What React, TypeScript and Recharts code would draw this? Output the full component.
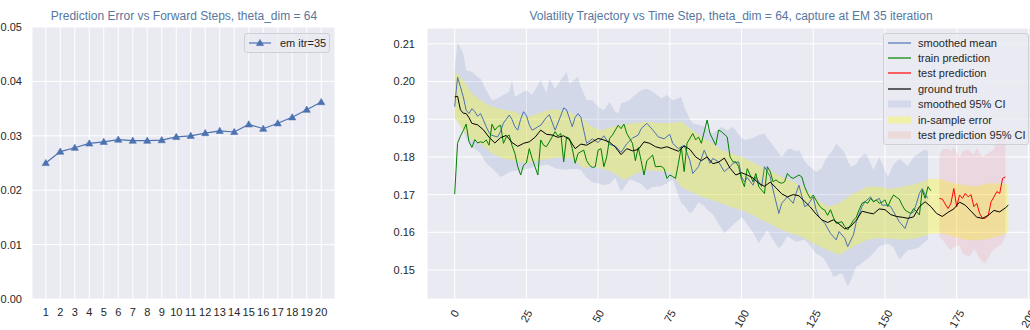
import React from "react";
import {
  ComposedChart,
  Line,
  Area,
  XAxis,
  YAxis,
  CartesianGrid,
  Legend,
} from "recharts";

// ---- left panel: prediction error per forward step ----
const forwardSteps = [1, 2, 3, 4, 5, 6, 7, 8, 9, 10, 11, 12, 13, 14, 15, 16, 17, 18, 19, 20];
const predError = [
  0.025, 0.0271, 0.0278, 0.0286, 0.0289, 0.0293, 0.0291, 0.0291, 0.0292, 0.0298,
  0.03, 0.0305, 0.0309, 0.0307, 0.0321, 0.0313, 0.0323, 0.0334, 0.0348, 0.0362,
];
const errTicks = [0, 0.01, 0.02, 0.03, 0.04, 0.05];

// ---- right panel: volatility trajectory, [step, value] ----
const groundTruth: [number, number][] = [
  [0, 0.1959], [1, 0.1961], [2, 0.1925], [3, 0.1916], [4, 0.1915], [5, 0.1904], [6, 0.1889],
  [8, 0.1885], [10, 0.1872], [12, 0.1852], [14, 0.1837], [16, 0.1851], [18, 0.1857], [20, 0.1838],
  [22, 0.1828], [24, 0.1836], [26, 0.184], [28, 0.1852], [30, 0.1871], [32, 0.186], [34, 0.1858],
  [36, 0.1852], [38, 0.1856], [40, 0.1846], [42, 0.1822], [44, 0.1834], [46, 0.1831], [48, 0.184],
  [50, 0.1849], [52, 0.1845], [54, 0.1839], [56, 0.1826], [58, 0.1806], [60, 0.1822], [62, 0.1816],
  [64, 0.182], [66, 0.184], [68, 0.1836], [70, 0.1827], [72, 0.1823], [74, 0.1827], [76, 0.1821],
  [78, 0.1815], [80, 0.1829], [82, 0.182], [84, 0.18], [86, 0.179], [88, 0.18], [90, 0.1782],
  [92, 0.1786], [94, 0.1797], [96, 0.177], [98, 0.1752], [100, 0.1758], [102, 0.1752], [104, 0.1744],
  [106, 0.173], [108, 0.1722], [110, 0.1733], [112, 0.1718], [114, 0.1702], [116, 0.1694], [118, 0.17],
  [120, 0.1697], [122, 0.1682], [124, 0.1667], [126, 0.1648], [128, 0.1633], [130, 0.1626], [132, 0.1633],
  [134, 0.1622], [136, 0.1609], [138, 0.1615], [140, 0.1632], [142, 0.1656], [144, 0.1652], [146, 0.1649],
  [148, 0.1662], [150, 0.166], [152, 0.1647], [154, 0.1642], [156, 0.164], [158, 0.1637], [160, 0.1641],
  [162, 0.1668], [164, 0.1681], [166, 0.1668], [168, 0.165], [170, 0.1642], [172, 0.1653], [174, 0.1662],
  [176, 0.168], [178, 0.1672], [180, 0.1656], [182, 0.164], [184, 0.1637], [186, 0.1645], [188, 0.1658],
  [190, 0.1654], [192, 0.1665], [193, 0.1672],
];

const smoothedMean: [number, number][] = [
  [0, 0.1933], [1, 0.2012], [2, 0.1986], [3, 0.1959], [4, 0.1924], [5, 0.1915], [6, 0.1928], [7, 0.192],
  [8, 0.1908], [9, 0.1915], [10, 0.1898], [11, 0.188], [12, 0.1864], [13, 0.1857], [14, 0.1855], [15, 0.1853],
  [16, 0.1868], [17, 0.189], [18, 0.19], [19, 0.1911], [20, 0.1899], [21, 0.188], [22, 0.1871], [23, 0.19],
  [24, 0.192], [25, 0.191], [26, 0.1885], [27, 0.1871], [28, 0.1875], [29, 0.188], [30, 0.1884], [32, 0.1905],
  [33, 0.1912], [35, 0.1871], [36, 0.189], [38, 0.193], [39, 0.1925], [41, 0.188], [42, 0.1905], [43, 0.1915],
  [44, 0.1905], [46, 0.1836], [48, 0.1848], [50, 0.1838], [52, 0.1856], [54, 0.1833], [56, 0.1829], [58, 0.1812],
  [60, 0.1835], [62, 0.185], [64, 0.1858], [65, 0.1875], [67, 0.1889], [69, 0.1872], [71, 0.1853], [73, 0.1848],
  [75, 0.186], [76, 0.1836], [78, 0.1822], [80, 0.1831], [82, 0.179], [83, 0.1756], [85, 0.1774], [87, 0.1818],
  [89, 0.1783], [90, 0.1796], [92, 0.1787], [94, 0.1761], [96, 0.1774], [97, 0.1783], [99, 0.1787], [100, 0.1747],
  [101, 0.1734], [102, 0.1745], [104, 0.1725], [105, 0.1747], [107, 0.1721], [108, 0.1774], [110, 0.1747],
  [111, 0.1712], [113, 0.165], [114, 0.1677], [116, 0.1694], [118, 0.1677], [119, 0.1703], [120, 0.1725],
  [122, 0.1668], [123, 0.1672], [125, 0.1694], [126, 0.1659], [127, 0.1641], [129, 0.1624], [131, 0.1597],
  [133, 0.158], [134, 0.1602], [136, 0.1584], [137, 0.1562], [139, 0.1593], [140, 0.1628], [142, 0.1668],
  [143, 0.1681], [145, 0.1694], [146, 0.1681], [148, 0.169], [149, 0.1672], [151, 0.1672], [152, 0.1668],
  [154, 0.1641], [155, 0.1628], [157, 0.161], [158, 0.1633], [159, 0.165], [160, 0.1654], [161, 0.1677],
  [162, 0.1703], [163, 0.1716], [164, 0.17], [165, 0.169],
];

const trainPred: [number, number][] = [
  [0, 0.1701], [1, 0.1836], [2, 0.1855], [3, 0.187], [4, 0.1887], [5, 0.184], [6, 0.1825], [7, 0.1846],
  [8, 0.1837], [9, 0.184], [10, 0.1838], [11, 0.1845], [12, 0.1831], [13, 0.1887], [14, 0.1871], [15, 0.188],
  [16, 0.1884], [17, 0.1836], [18, 0.1853], [19, 0.1858], [20, 0.183], [21, 0.1809], [22, 0.1774], [23, 0.1752],
  [24, 0.1778], [25, 0.1784], [26, 0.1822], [27, 0.1796], [28, 0.1774], [29, 0.1752], [30, 0.1845], [31, 0.1831],
  [32, 0.1827], [33, 0.184], [35, 0.1867], [36, 0.1855], [37, 0.1862], [38, 0.1787], [39, 0.1853], [40, 0.1849],
  [41, 0.1822], [42, 0.1783], [43, 0.1809], [44, 0.1814], [45, 0.1818], [46, 0.179], [47, 0.1778], [48, 0.1772],
  [49, 0.1774], [50, 0.1818], [51, 0.1822], [52, 0.1774], [53, 0.18], [54, 0.1849], [55, 0.1858], [57, 0.1884],
  [58, 0.1875], [59, 0.1887], [60, 0.1862], [62, 0.1836], [63, 0.179], [64, 0.1825], [65, 0.179], [66, 0.1752],
  [67, 0.179], [69, 0.1805], [70, 0.1774], [72, 0.1775], [73, 0.1769], [74, 0.1743], [75, 0.1752], [76, 0.1748],
  [77, 0.1743], [78, 0.1783], [79, 0.1827], [80, 0.1761], [81, 0.1836], [83, 0.1862], [84, 0.1845], [85, 0.1853],
  [86, 0.1836], [88, 0.1898], [89, 0.1862], [91, 0.1831], [92, 0.1871], [93, 0.1867], [95, 0.1853], [96, 0.18],
  [97, 0.1787], [98, 0.1787], [99, 0.1774], [100, 0.174], [101, 0.1721], [102, 0.1769], [103, 0.1752],
  [104, 0.1734], [105, 0.1756], [106, 0.1721], [107, 0.1712], [108, 0.1703], [109, 0.1774], [110, 0.1761],
  [111, 0.1734], [112, 0.1739], [113, 0.1733], [114, 0.173], [115, 0.1734], [116, 0.1756], [117, 0.1747],
  [118, 0.1743], [120, 0.1752], [121, 0.1747], [122, 0.1721], [123, 0.1703], [124, 0.169], [125, 0.1699],
  [126, 0.1685], [127, 0.1672], [128, 0.1663], [129, 0.1659], [130, 0.1645], [131, 0.166], [132, 0.164],
  [133, 0.1624], [135, 0.1628], [136, 0.1615], [137, 0.1606], [138, 0.1619], [139, 0.1632], [140, 0.164],
  [141, 0.166], [142, 0.1677], [143, 0.1681], [144, 0.1677], [145, 0.169], [146, 0.1681], [147, 0.1686],
  [148, 0.1677], [149, 0.168], [150, 0.1686], [151, 0.1668], [152, 0.1686], [153, 0.1699], [154, 0.1693],
  [155, 0.1688], [156, 0.1672], [157, 0.1659], [158, 0.1654], [159, 0.165], [160, 0.1663], [161, 0.1655],
  [162, 0.1646], [163, 0.1712], [164, 0.169], [165, 0.1721], [166, 0.171],
];

const testPred: [number, number][] = [
  [169, 0.169], [170, 0.1688], [171, 0.1675], [172, 0.1663], [173, 0.1677], [174, 0.1716], [175, 0.1668],
  [176, 0.1699], [177, 0.169], [178, 0.1703], [179, 0.1694], [180, 0.17], [181, 0.1668], [182, 0.1677],
  [183, 0.165], [184, 0.1637], [185, 0.1637], [186, 0.1645], [187, 0.1681], [188, 0.1694], [189, 0.1708],
  [190, 0.1703], [191, 0.1743], [192, 0.1747],
];

// bands: [step, low, high]
const smoothedCI: [number, number, number][] = [
  [0, 0.19, 0.2035], [1, 0.1895, 0.2105], [3, 0.187, 0.2074], [4, 0.185, 0.203], [6, 0.1827, 0.2026],
  [8, 0.1815, 0.2012], [9, 0.181, 0.2008], [11, 0.1783, 0.1977], [13, 0.177, 0.195], [15, 0.1755, 0.1955],
  [16, 0.1747, 0.196], [17, 0.175, 0.1964], [19, 0.176, 0.1973], [20, 0.1762, 0.2004], [21, 0.1763, 0.1959],
  [23, 0.1765, 0.1968], [25, 0.1768, 0.1977], [27, 0.1772, 0.1964], [30, 0.1776, 0.2004], [32, 0.178, 0.1968],
  [33, 0.1778, 0.2008], [35, 0.177, 0.1981], [37, 0.1767, 0.2004], [39, 0.1766, 0.2026], [40, 0.1768, 0.1995],
  [43, 0.1768, 0.2012], [44, 0.1765, 0.1986], [46, 0.1745, 0.195], [48, 0.1733, 0.195], [50, 0.173, 0.1933],
  [52, 0.1725, 0.1924], [54, 0.1728, 0.1946], [56, 0.1745, 0.192], [57, 0.1725, 0.1915], [58, 0.1708, 0.1942],
  [61, 0.174, 0.195], [62, 0.1738, 0.1959], [65, 0.1728, 0.1977], [67, 0.1712, 0.1981], [69, 0.172, 0.1973],
  [72, 0.1722, 0.1955], [74, 0.173, 0.1964], [76, 0.174, 0.195], [79, 0.1677, 0.1959], [80, 0.1672, 0.1933],
  [82, 0.165, 0.19], [83, 0.1655, 0.1889], [85, 0.168, 0.1885], [87, 0.167, 0.188], [88, 0.166, 0.1875],
  [90, 0.1648, 0.1862], [93, 0.161, 0.188], [94, 0.1597, 0.1875], [95, 0.1605, 0.187], [97, 0.162, 0.188],
  [100, 0.164, 0.185], [101, 0.1632, 0.1845], [103, 0.161, 0.1848], [104, 0.16, 0.185], [106, 0.1571, 0.1858],
  [108, 0.1595, 0.1862], [109, 0.1605, 0.185], [111, 0.158, 0.183], [113, 0.1557, 0.181], [114, 0.1565, 0.18],
  [116, 0.159, 0.182], [117, 0.1585, 0.1822], [119, 0.1575, 0.1815], [120, 0.1577, 0.1818], [122, 0.158, 0.179],
  [123, 0.1572, 0.178], [126, 0.1544, 0.176], [128, 0.1535, 0.177], [129, 0.1527, 0.179], [131, 0.15, 0.181],
  [132, 0.1482, 0.182], [133, 0.1485, 0.1835], [135, 0.1491, 0.182], [136, 0.1475, 0.181], [137, 0.1456, 0.179],
  [138, 0.147, 0.1774], [140, 0.1509, 0.178], [141, 0.1512, 0.1795], [143, 0.1525, 0.181], [144, 0.153, 0.18],
  [146, 0.1545, 0.1765], [148, 0.1562, 0.18], [151, 0.157, 0.1747], [153, 0.156, 0.178], [155, 0.1527, 0.1795],
  [158, 0.1553, 0.1775], [160, 0.1555, 0.18], [162, 0.156, 0.181], [164, 0.1575, 0.182], [165, 0.158, 0.1815],
];

const inSampleErr: [number, number, number][] = [
  [0, 0.1905, 0.2026], [3, 0.187, 0.2004], [6, 0.1845, 0.1968], [10, 0.183, 0.1945], [13, 0.1809, 0.1933],
  [17, 0.1795, 0.1925], [21, 0.179, 0.192], [25, 0.1783, 0.1905], [29, 0.179, 0.1915], [33, 0.1795, 0.1925],
  [37, 0.18, 0.1925], [41, 0.1795, 0.1915], [45, 0.177, 0.1898], [48, 0.1775, 0.188], [51, 0.177, 0.187],
  [55, 0.176, 0.188], [59, 0.1738, 0.1885], [63, 0.1755, 0.189], [67, 0.1765, 0.1893], [71, 0.1762, 0.189],
  [75, 0.176, 0.189], [79, 0.1721, 0.1893], [83, 0.1705, 0.187], [86, 0.1694, 0.1853], [90, 0.1685, 0.1835],
  [93, 0.1677, 0.1818], [97, 0.1665, 0.1808], [100, 0.1659, 0.18], [104, 0.1645, 0.1785], [107, 0.1633, 0.1774],
  [111, 0.1618, 0.176], [114, 0.1606, 0.1747], [118, 0.1595, 0.1735], [121, 0.1588, 0.1721], [125, 0.1571, 0.1694],
  [130, 0.1553, 0.1668], [134, 0.154, 0.1677], [139, 0.1562, 0.1703], [144, 0.158, 0.1721], [148, 0.1585, 0.1721],
  [152, 0.1583, 0.1715], [156, 0.158, 0.1721], [160, 0.1583, 0.1727], [163, 0.1588, 0.1734], [166, 0.1597, 0.1743],
  [170, 0.1597, 0.174], [174, 0.1588, 0.173], [178, 0.158, 0.1725], [182, 0.1578, 0.1722], [186, 0.1582, 0.173],
  [190, 0.159, 0.173], [193, 0.16, 0.1727],
];

const testCI: [number, number, number][] = [
  [169, 0.1588, 0.1805], [170, 0.158, 0.182], [172, 0.156, 0.1822], [173, 0.1553, 0.1815], [174, 0.156, 0.1827],
  [176, 0.1565, 0.18], [177, 0.1545, 0.1815], [179, 0.1535, 0.182], [180, 0.154, 0.1812], [181, 0.1555, 0.1808],
  [182, 0.1545, 0.1825], [183, 0.153, 0.181], [184, 0.152, 0.18], [185, 0.1518, 0.1805], [186, 0.153, 0.181],
  [187, 0.1545, 0.1815], [188, 0.1555, 0.182], [189, 0.156, 0.185], [190, 0.1565, 0.187], [191, 0.1571, 0.188],
  [192, 0.159, 0.185],
];

const volTicks = [0.15, 0.16, 0.17, 0.18, 0.19, 0.2, 0.21];
const stepTicks = [0, 25, 50, 75, 100, 125, 150, 175, 200];

const FONT = "Arial, 'Liberation Sans', sans-serif";
const INK = "#262626";
const TITLE = "#56779f";
const BG = "#EAEAF2";
const BLUE = "#4C72B0";

const errRows = forwardSteps.map((s, i) => ({ step: s, err: predError[i] }));
const toLine = (p: [number, number][]) => p.map(([step, v]) => ({ step, v }));
const toBand = (p: [number, number, number][]) => p.map(([step, lo, hi]) => ({ step, band: [lo, hi] }));

const legendItems = [
  { label: "smoothed mean", type: "line", color: BLUE },
  { label: "train prediction", type: "line", color: "#008000" },
  { label: "test prediction", type: "line", color: "#ff0000" },
  { label: "ground truth", type: "line", color: "#000000" },
  { label: "smoothed 95% CI", type: "patch", color: "#d3d9ea" },
  { label: "in-sample error", type: "patch", color: "#f0f0a8" },
  { label: "test prediction 95% CI", type: "patch", color: "#ecdad9" },
];

function Triangle(props: any) {
  const { cx, cy } = props;
  if (cx == null || cy == null) return null;
  return (
    <polygon
      points={`${cx},${cy - 3.6} ${cx - 3.6},${cy + 2.6} ${cx + 3.6},${cy + 2.6}`}
      fill={BLUE}
      stroke={BLUE}
      strokeWidth={0.6}
    />
  );
}

// matplotlib-style rotation=60: label box centred under the tick
function RotatedTick(props: any) {
  const { x, y, payload } = props;
  const label = String(payload.value);
  const w = label.length * 6.1;
  const cy = y + (w * 0.866 + 11 * 0.5) / 2;
  return (
    <text
      x={x}
      y={cy}
      fill={INK}
      fontSize={11}
      fontFamily={FONT}
      textAnchor="middle"
      dominantBaseline="central"
      transform={`rotate(-60 ${x} ${cy})`}
    >
      {label}
    </text>
  );
}

function LeftLegend() {
  return (
    <div
      style={{
        width: 86,
        height: 20,
        boxSizing: "border-box",
        border: "1px solid #cfcfd6",
        borderRadius: 3,
        background: "rgba(234,234,242,0.8)",
        display: "flex",
        alignItems: "center",
        fontSize: 11,
        color: INK,
        fontFamily: FONT,
      }}
    >
      <svg width={30} height={12} style={{ marginLeft: 3 }}>
        <line x1={1} y1={6} x2={23} y2={6} stroke={BLUE} strokeWidth={1.2} />
        <Triangle cx={12} cy={6} />
      </svg>
      <span style={{ marginLeft: 2 }}>em itr=35</span>
    </div>
  );
}

function RightLegend() {
  return (
    <div
      style={{
        width: 146,
        height: 112,
        boxSizing: "border-box",
        border: "1px solid #cfcfd6",
        borderRadius: 3,
        background: "rgba(234,234,242,0.8)",
        padding: "1px 0 0 3px",
        fontSize: 11,
        color: INK,
        fontFamily: FONT,
      }}
    >
      {legendItems.map((it) => (
        <div key={it.label} style={{ height: 15.4, display: "flex", alignItems: "center" }}>
          <svg width={31} height={10}>
            {it.type === "line" ? (
              <line x1={1} y1={5} x2={24} y2={5} stroke={it.color} strokeWidth={1.2} />
            ) : (
              <rect x={1} y={1.5} width={23} height={7} fill={it.color} />
            )}
          </svg>
          <span style={{ whiteSpace: "nowrap" }}>{it.label}</span>
        </div>
      ))}
    </div>
  );
}

const titleStyle = (left: number, width: number): React.CSSProperties => ({
  position: "absolute",
  left,
  width,
  top: 9,
  textAlign: "center",
  fontSize: 12,
  color: TITLE,
  fontFamily: FONT,
  whiteSpace: "nowrap",
});

export default function App() {
  return (
    <div
      style={{
        position: "fixed",
        left: 0,
        top: 0,
        width: 1030,
        height: 330,
        overflow: "hidden",
        background: "#fff",
        fontFamily: FONT,
      }}
    >
      <div style={titleStyle(33, 302)}>Prediction Error vs Forward Steps, theta_dim = 64</div>
      <div style={titleStyle(427, 608)}>
        Volatility Trajectory vs Time Step, theta_dim = 64, capture at EM 35 iteration
      </div>

      <div style={{ position: "absolute", left: 0, top: 0 }}>
        <ComposedChart
          width={345}
          height={330}
          data={errRows}
          margin={{ top: 27, right: 10, bottom: 6, left: 0 }}
          style={{ fontFamily: FONT }}
        >
          <CartesianGrid fill={BG} stroke="#ffffff" strokeWidth={1} />
          <XAxis
            dataKey="step"
            type="number"
            domain={[0.05, 20.95]}
            ticks={forwardSteps}
            interval={0}
            allowDataOverflow
            axisLine={false}
            tickLine={false}
            tickSize={0}
            tickMargin={9}
            height={25}
            tick={{ fontSize: 11, fill: INK, fontFamily: FONT }}
          />
          <YAxis
            type="number"
            domain={[0, 0.05]}
            ticks={errTicks}
            allowDataOverflow
            axisLine={false}
            tickLine={false}
            tickSize={0}
            tickMargin={10}
            width={32}
            tickFormatter={(v: number) => v.toFixed(2)}
            tick={{ fontSize: 11, fill: INK, fontFamily: FONT }}
          />
          <Line
            dataKey="err"
            type="linear"
            stroke={BLUE}
            strokeWidth={1.2}
            dot={(p: any) => <Triangle key={`t-${p.index}`} cx={p.cx} cy={p.cy} />}
            activeDot={false}
            isAnimationActive={false}
          />
          <Legend
            layout="horizontal"
            verticalAlign="middle"
            align="center"
            content={() => <LeftLegend />}
            wrapperStyle={{ left: 244, top: 33, width: 86 }}
          />
        </ComposedChart>
      </div>

      <div style={{ position: "absolute", left: 340, top: 0 }}>
        <ComposedChart
          width={710}
          height={330}
          margin={{ top: 28, right: 14, bottom: 6, left: 47 }}
          style={{ fontFamily: FONT }}
        >
          <CartesianGrid fill={BG} stroke="#ffffff" strokeWidth={1} />
          <XAxis
            dataKey="step"
            type="number"
            domain={[-9.65, 202.65]}
            ticks={stepTicks}
            interval={0}
            allowDataOverflow
            axisLine={false}
            tickLine={false}
            tickSize={0}
            tickMargin={9}
            height={25}
            tick={<RotatedTick />}
          />
          <YAxis
            type="number"
            domain={[0.1423, 0.2142]}
            ticks={volTicks}
            allowDataOverflow
            axisLine={false}
            tickLine={false}
            tickSize={0}
            tickMargin={12}
            width={40}
            tickFormatter={(v: number) => v.toFixed(2)}
            tick={{ fontSize: 11, fill: INK, fontFamily: FONT }}
          />
          <Area
            data={toBand(smoothedCI)}
            dataKey="band"
            type="linear"
            stroke="none"
            fill={BLUE}
            fillOpacity={0.15}
            isAnimationActive={false}
          />
          <Area
            data={toBand(inSampleErr)}
            dataKey="band"
            type="linear"
            stroke="none"
            fill="#ffff00"
            fillOpacity={0.3}
            isAnimationActive={false}
          />
          <Area
            data={toBand(testCI)}
            dataKey="band"
            type="linear"
            stroke="none"
            fill="#ff0000"
            fillOpacity={0.08}
            isAnimationActive={false}
          />
          <Line data={toLine(smoothedMean)} dataKey="v" type="linear" stroke={BLUE} strokeWidth={1} dot={false} activeDot={false} isAnimationActive={false} />
          <Line data={toLine(trainPred)} dataKey="v" type="linear" stroke="#008000" strokeWidth={1} dot={false} activeDot={false} isAnimationActive={false} />
          <Line data={toLine(testPred)} dataKey="v" type="linear" stroke="#ff0000" strokeWidth={1} dot={false} activeDot={false} isAnimationActive={false} />
          <Line data={toLine(groundTruth)} dataKey="v" type="linear" stroke="#000000" strokeWidth={1} dot={false} activeDot={false} isAnimationActive={false} />
          <Legend
            layout="horizontal"
            verticalAlign="middle"
            align="center"
            content={() => <RightLegend />}
            wrapperStyle={{ left: 543, top: 33, width: 146 }}
          />
        </ComposedChart>
      </div>
    </div>
  );
}
